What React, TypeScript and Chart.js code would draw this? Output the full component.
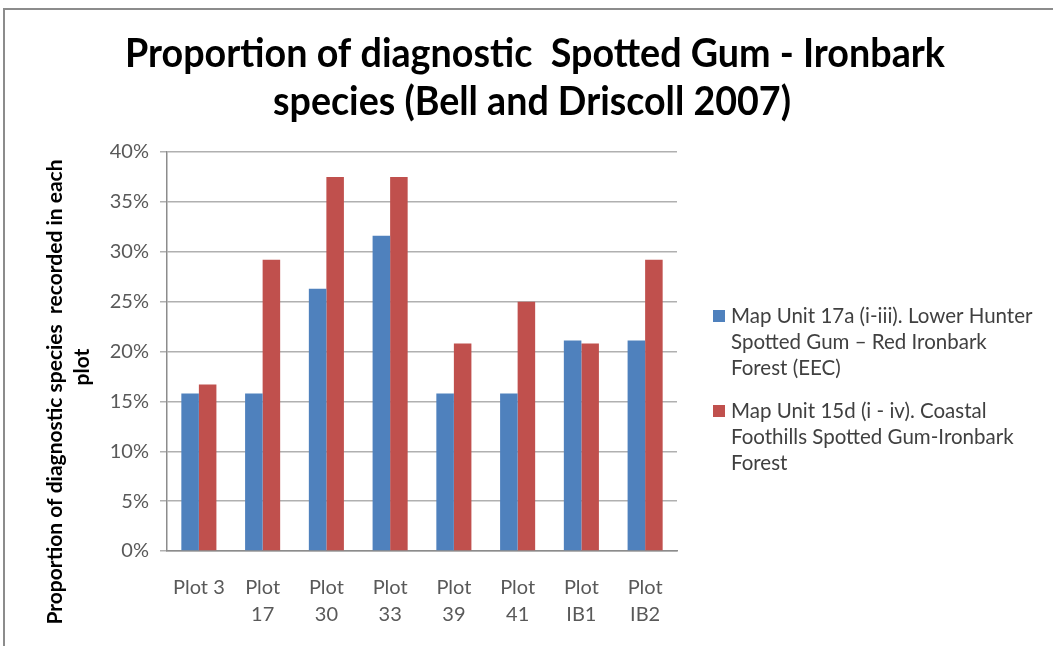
import React, { useEffect, useRef } from "react";
import { Chart, registerables } from "chart.js";

Chart.register(...registerables);

const categories: (string | string[])[] = [
  "Plot 3",
  ["Plot", "17"],
  ["Plot", "30"],
  ["Plot", "33"],
  ["Plot", "39"],
  ["Plot", "41"],
  ["Plot", "IB1"],
  ["Plot", "IB2"],
];

const seriesNames = [
  ["Map Unit 17a (i-iii). Lower Hunter", "Spotted Gum \u2013 Red Ironbark", "Forest (EEC)"],
  ["Map Unit 15d (i - iv). Coastal", "Foothills Spotted Gum-Ironbark", "Forest"],
];

const mapUnit17aValues = [15.8, 15.8, 26.3, 31.6, 15.8, 15.8, 21.1, 21.1];
const mapUnit15dValues = [16.7, 29.2, 37.5, 37.5, 20.8, 25.0, 20.8, 29.2];

const yTicks = { min: 0, max: 40, step: 5 };

const titleLines = [
  "Proportion of diagnostic  Spotted Gum - Ironbark",
  "species (Bell and Driscoll 2007)",
];
const yTitleLines = ["Proportion of diagnostic species  recorded in each", "plot"];

const colors = ["#4F81BD", "#C0504D"];

const decorPlugin = {
  id: "decor",
  afterDraw(chart: any) {
    const ctx = chart.ctx as CanvasRenderingContext2D;
    ctx.save();
    // frame
    ctx.strokeStyle = "#8c8c8c";
    ctx.lineWidth = 2;
    ctx.beginPath();
    ctx.moveTo(4, 646);
    ctx.lineTo(4, 9);
    ctx.lineTo(1053, 9);
    ctx.stroke();

    // title
    ctx.fillStyle = "#000";
    ctx.textAlign = "center";
    ctx.textBaseline = "middle";
    ctx.font = "bold 41px Lato";
    ctx.fillText(titleLines[0], 535, 54, 820);
    ctx.fillText(titleLines[1], 532, 102, 518);

    // y axis title
    ctx.font = "bold 21px Lato";
    ctx.save();
    ctx.translate(55, 392);
    ctx.rotate(-Math.PI / 2);
    ctx.fillText(yTitleLines[0], 0, 0, 466);
    ctx.restore();
    ctx.save();
    ctx.translate(82, 367);
    ctx.rotate(-Math.PI / 2);
    ctx.fillText(yTitleLines[1], 0, 0);
    ctx.restore();

    // legend
    ctx.textAlign = "left";
    ctx.font = "20.5px Lato";
    const starts = [316, 411];
    seriesNames.forEach((lines, i) => {
      ctx.fillStyle = colors[i];
      ctx.fillRect(713, starts[i] - 6, 12, 12);
      ctx.fillStyle = "#404040";
      lines.forEach((t, j) => ctx.fillText(t, 731, starts[i] + j * 26));
    });
    ctx.restore();
  },
};

export default function App() {
  const ref = useRef<HTMLCanvasElement>(null);
  useEffect(() => {
    if (!ref.current) return;
    const chart = new Chart(ref.current, {
      type: "bar",
      data: {
        labels: categories,
        datasets: [
          {
            label: seriesNames[0].join(" "),
            data: mapUnit17aValues,
            backgroundColor: colors[0],
            categoryPercentage: 0.55,
            barPercentage: 1,
          },
          {
            label: seriesNames[1].join(" "),
            data: mapUnit15dValues,
            backgroundColor: colors[1],
            categoryPercentage: 0.55,
            barPercentage: 1,
          },
        ],
      },
      options: {
        animation: false,
        responsive: false,
        layout: { padding: { top: 152, right: 376, left: 0, bottom: 0 } },
        plugins: { legend: { display: false }, title: { display: false }, tooltip: { enabled: false } },
        scales: {
          x: {
            grid: { display: false, drawTicks: false },
            border: { color: "#8c8c8c", width: 1.5 },
            ticks: {
              color: "#595959",
              font: { family: "Lato", size: 20, lineHeight: 1.35 },
              padding: 23,
              maxRotation: 0,
              autoSkip: false,
            },
            afterFit: (s: any) => {
              s.height = 95;
            },
          },
          y: {
            min: yTicks.min,
            max: yTicks.max,
            ticks: {
              stepSize: yTicks.step,
              color: "#595959",
              font: { family: "Lato", size: 20 },
              padding: 11,
              callback: (v: any) => v + "%",
            },
            grid: { color: "#b0b0b0", lineWidth: 1.5, tickLength: 7 },
            border: { color: "#8c8c8c", width: 1.5 },
            afterFit: (s: any) => {
              s.width = 167;
            },
          },
        },
      },
      plugins: [decorPlugin],
    });
    return () => chart.destroy();
  }, []);
  return (
    <div style={{ position: "absolute", left: 0, top: 0, width: 1053, height: 646, background: "#fff" }}>
      <canvas ref={ref} width={1053} height={646} style={{ display: "block" }} />
    </div>
  );
}
